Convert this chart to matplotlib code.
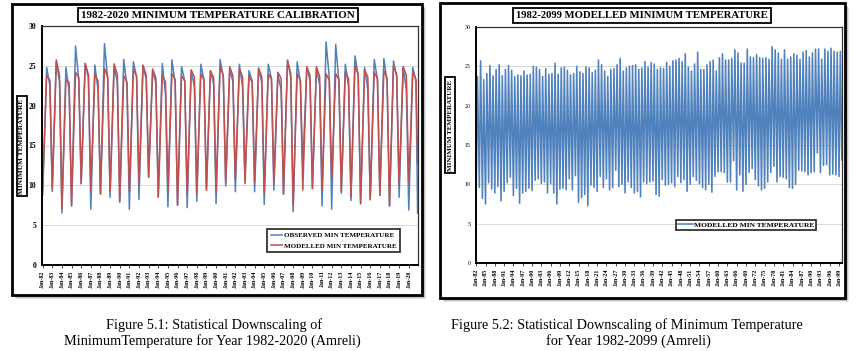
import matplotlib
matplotlib.use("Agg")
import matplotlib.pyplot as plt
from matplotlib.patches import Rectangle
import numpy as np

# ---------------- data ----------------
years_cal = list(range(1982, 2021))
# observed (blue) – January trough, June peak, October shoulder
obs_jan = [8.75, 9.25, 6.5, 7.5, 10.2, 7.0, 8.9, 8.5, 7.9, 7.0, 8.25, 11.0, 8.5,
           7.3, 7.5, 7.2, 8.0, 9.4, 7.7, 9.9, 9.2, 10.6, 9.2, 7.6, 9.4, 8.9,
           6.7, 12.3, 9.6, 7.4, 7.0, 9.0, 8.1, 7.7, 8.2, 8.75, 7.4, 8.5, 6.9]
obs_jun = [24.8, 25.5, 24.8, 27.5, 25.3, 25.1, 27.8, 24.9, 25.8, 25.5, 25.0, 24.4,
           25.3, 25.75, 24.9, 24.4, 25.2, 24.4, 25.8, 24.5, 25.2, 24.4, 24.7, 25.2,
           23.9, 25.7, 25.5, 24.8, 24.7, 28.0, 27.7, 25.2, 26.25, 24.8, 25.8, 25.9,
           25.6, 24.9, 24.8]
obs_oct = [22.5, 23.0, 21.8, 23.2, 23.5, 22.0, 23.4, 23.0, 22.5, 23.6, 23.3, 22.8,
           21.5, 22.9, 23.1, 22.4, 23.2, 22.7, 23.6, 23.0, 22.3, 23.1, 22.8, 23.4,
           22.0, 23.6, 22.9, 23.2, 22.6, 23.5, 23.0, 22.4, 23.8, 22.0, 23.3, 23.0,
           23.6, 22.0, 23.0]
obs_dec_end = 6.5
# modelled (red)
mod_jan = [9.4, 9.6, 7.1, 7.4, 10.2, 9.4, 8.9, 9.2, 7.9, 9.2, 10.2, 11.0, 8.5,
           9.4, 7.5, 8.9, 9.0, 9.4, 9.2, 10.2, 10.7, 10.2, 10.4, 9.0, 10.4, 8.9,
           7.5, 9.4, 9.6, 9.4, 10.7, 9.2, 8.5, 7.7, 8.2, 8.75, 7.4, 10.0, 10.2]
mod_jun = [23.75, 25.75, 23.3, 24.2, 25.3, 23.9, 24.7, 25.25, 23.75, 24.6, 25.1,
           24.6, 23.75, 24.0, 23.75, 24.5, 24.0, 24.4, 24.9, 24.9, 24.7, 23.75,
           24.7, 24.0, 24.2, 25.7, 24.0, 24.9, 24.9, 24.0, 24.0, 24.2, 25.0, 24.5,
           24.2, 24.4, 25.0, 24.9, 24.3]
mod_oct = [23.2, 23.8, 22.9, 23.5, 23.9, 23.1, 23.6, 23.9, 23.0, 23.7, 23.8, 23.5,
           23.0, 23.3, 23.1, 23.6, 23.2, 23.5, 23.8, 23.7, 23.6, 22.9, 23.6, 23.3,
           23.4, 24.0, 23.2, 23.8, 23.7, 23.2, 23.3, 23.4, 23.9, 23.6, 23.4, 23.5,
           23.9, 23.8, 23.3]
mod_dec_end = 12.7

years_fut = list(range(1982, 2100))
fut_jan = [9.6, 9.6, 8.2, 7.5, 10.2, 9.4, 8.9, 9.7, 7.9, 9.1, 10.2, 10.9, 8.6, 9.5,
           7.6, 8.9, 9.1, 9.5, 9.2, 10.5, 10.7, 10.1, 10.3, 8.9, 10.1, 8.9, 7.5,
           9.4, 9.5, 9.3, 10.7, 9.3, 11.1, 7.7, 8.3, 8.7, 7.3, 9.9, 9.6, 9.1, 11.0,
           9.6, 10.7, 9.3, 9.6, 11.8, 9.7, 10.0, 8.9, 10.3, 9.6, 8.9, 9.1, 8.4,
           10.3, 10.1, 10.3, 10.4, 8.7, 8.5, 10.6, 9.9, 10.0, 10.2, 9.7, 11.0, 10.2,
           10.6, 9.1, 10.0, 11.0, 10.5, 10.1, 9.6, 9.3, 10.0, 9.0, 11.0, 11.6, 11.6,
           11.5, 10.3, 10.3, 13.0, 9.3, 11.2, 9.1, 10.0, 11.5, 12.0, 10.6, 9.8, 9.3,
           9.5, 10.3, 11.5, 12.3, 10.3, 11.0, 10.9, 10.7, 9.6, 9.5, 10.0, 11.8,
           11.7, 11.6, 11.2, 11.5, 11.6, 14.0, 11.5, 12.4, 12.5, 11.2, 11.3, 11.2,
           11.0]
fut_dec_end = 13.1
fut_jun = [23.7, 25.7, 23.3, 24.1, 25.1, 23.8, 24.6, 25.2, 23.8, 24.6, 25.1, 24.5,
           23.7, 23.9, 23.8, 24.4, 23.9, 24.0, 25.0, 24.9, 24.6, 23.7, 24.7, 24.0,
           24.1, 25.4, 24.0, 24.8, 24.9, 24.5, 23.9, 24.1, 25.0, 24.3, 24.1, 24.9,
           24.8, 24.2, 24.5, 25.8, 25.2, 24.4, 23.7, 24.6, 24.7, 25.2, 26.0, 24.4,
           24.8, 25.0, 25.1, 25.2, 24.6, 24.8, 25.6, 24.9, 25.5, 25.3, 24.6, 24.8,
           24.7, 25.5, 25.0, 25.7, 25.8, 26.0, 25.6, 26.6, 24.9, 24.4, 25.3, 26.8,
           24.6, 24.6, 25.2, 25.6, 25.8, 24.4, 26.1, 26.6, 25.8, 25.8, 26.0, 27.1,
           26.7, 25.4, 25.4, 27.2, 26.2, 26.1, 26.5, 26.1, 26.0, 26.1, 25.9, 27.5,
           27.1, 26.7, 25.9, 27.1, 25.9, 26.2, 26.6, 26.4, 25.9, 26.8, 27.0, 26.2,
           26.7, 27.2, 27.2, 25.9, 27.2, 26.9, 27.3, 26.9, 26.8, 26.9]

cal_tick_labels = [f"Jan-{y % 100:02d}" for y in years_cal]
fut_tick_years = years_fut[::3]
fut_tick_labels = [f"Jan-{y % 100:02d}" for y in fut_tick_years]

BLUE = "#4F81BD"
RED = "#C0504D"
SERIF = "Liberation Serif"


def build(jan, jun, octo, end, n_years):
    xs, ys = [], []
    for i in range(n_years):
        xs += [i * 12 + 0, i * 12 + 5]
        ys += [jan[i], jun[i]]
        if octo is not None:
            xs.append(i * 12 + 9)
            ys.append(octo[i])
    xs.append(n_years * 12 - 1)
    ys.append(end)
    return np.array(xs), np.array(ys)


W, H = 860, 351
fig = plt.figure(figsize=(W / 100, H / 100), dpi=100)
fig.patch.set_facecolor("white")


def fx(px):
    return px / W


def fy(py):
    return 1 - py / H


def frame(x0, y0, x1, y1):
    # soft drop shadow
    for k, a in [(4, 0.15), (3, 0.25), (2, 0.35)]:
        fig.patches.append(Rectangle((fx(x0 + k), fy(y1 + k)), fx(x1 - x0), (y1 - y0) / H,
                                     transform=fig.transFigure, facecolor="#555555",
                                     edgecolor="none", alpha=a, zorder=-3))
    fig.patches.append(Rectangle((fx(x0), fy(y1)), fx(x1 - x0), (y1 - y0) / H,
                                 transform=fig.transFigure, facecolor="white",
                                 edgecolor="black", linewidth=2.0, zorder=-2))


frame(12, 4, 422, 295)
frame(440, 3, 845, 298)


def boxed_text(x, y, s, size, rot=0, pad=0.25):
    fig.text(fx(x), fy(y), s, ha="center", va="center", rotation=rot,
             fontsize=size, fontweight="bold", family=SERIF,
             bbox=dict(boxstyle=f"square,pad={pad}", facecolor="white",
                       edgecolor="black", linewidth=1.3))


def style_axes(ax, ytick_size):
    ax.set_ylim(0, 30)
    ax.set_yticks(range(0, 31, 5))
    ax.yaxis.grid(True, color="#d9d9d9", linewidth=0.7)
    ax.set_axisbelow(True)
    for s in ["left", "bottom"]:
        ax.spines[s].set_linewidth(1.4)
        ax.spines[s].set_color("black")
    for s in ["top", "right"]:
        ax.spines[s].set_linewidth(0.9)
        ax.spines[s].set_color("#333333")
    ax.tick_params(axis="y", length=0, pad=4, labelsize=ytick_size)
    ax.tick_params(axis="x", length=2, width=0.5, pad=2, labelsize=4.3, labelrotation=90)
    for lab in ax.get_yticklabels() + ax.get_xticklabels():
        lab.set_family(SERIF)
        lab.set_fontweight("bold")


# ---------------- left chart ----------------
ax1 = fig.add_axes([fx(42), fy(265), fx(376), 239 / H])
xo, yo = build(obs_jan, obs_jun, obs_oct, obs_dec_end, len(years_cal))
xm, ym = build(mod_jan, mod_jun, mod_oct, mod_dec_end, len(years_cal))
ax1.plot(xo, yo, color=BLUE, lw=1.1, label="OBSERVED MIN TEMPERATURE")
ax1.plot(xm, ym, color=RED, lw=1.1, label="MODELLED MIN TEMPERATURE")
ax1.set_xlim(-0.8, len(years_cal) * 12 - 0.5)
ax1.set_xticks([i * 12 for i in range(len(years_cal))])
ax1.set_xticklabels(cal_tick_labels)
style_axes(ax1, 5.5)
leg1 = ax1.legend(loc="lower right", bbox_to_anchor=(0.962, 0.04), frameon=True,
                  fancybox=False, prop=dict(family=SERIF, weight="bold", size=5.0),
                  handlelength=1.7, handletextpad=0.3, borderpad=0.45, labelspacing=0.7)
leg1.get_frame().set_edgecolor("black")
leg1.get_frame().set_linewidth(1.3)

boxed_text(218, 15, "1982-2020 MINIMUM TEMPERATURE CALIBRATION", 7.9)
boxed_text(22, 146, "MINIMUM TEMPERATURE", 5.2, rot=90, pad=0.3)

# ---------------- right chart ----------------
ax2 = fig.add_axes([fx(476), fy(263), fx(366), 236 / H])
xf, yf = build(fut_jan, fut_jun, None, fut_dec_end, len(years_fut))
ax2.plot(xf, yf, color=BLUE, lw=1.15, label="MODELLED MIN TEMPERATURE")
ax2.set_xlim(-0.8, len(years_fut) * 12 - 0.5)
ax2.set_xticks([(y - 1982) * 12 for y in fut_tick_years])
ax2.set_xticklabels(fut_tick_labels)
style_axes(ax2, 4.2)
for lab in ax2.get_yticklabels():
    lab.set_fontweight("normal")
leg2 = ax2.legend(loc="lower right", bbox_to_anchor=(0.934, 0.135), frameon=True,
                  fancybox=False, prop=dict(family=SERIF, weight="bold", size=5.4),
                  handlelength=2.0, handletextpad=0.2, borderpad=0.25,
                  borderaxespad=0.2)
leg2.get_frame().set_edgecolor("black")
leg2.get_frame().set_linewidth(1.3)

boxed_text(642, 15.5, "1982-2099 MODELLED MINIMUM TEMPERATURE", 7.7)
boxed_text(450, 125, "MINIMUM TEMPERATURE", 5.0, rot=90, pad=0.3)

# ---------------- captions ----------------
cap = dict(ha="center", va="center", fontsize=10.3, family=SERIF)
fig.text(fx(214), fy(325), "Figure 5.1: Statistical Downscaling of", **cap)
fig.text(fx(212), fy(341), "MinimumTemperature for Year 1982-2020 (Amreli)", **cap)
fig.text(fx(627), fy(325), "Figure 5.2: Statistical Downscaling of Minimum Temperature", **cap)
fig.text(fx(628), fy(341), "for Year 1982-2099 (Amreli)", **cap)

fig.savefig("out.png", dpi=100)
